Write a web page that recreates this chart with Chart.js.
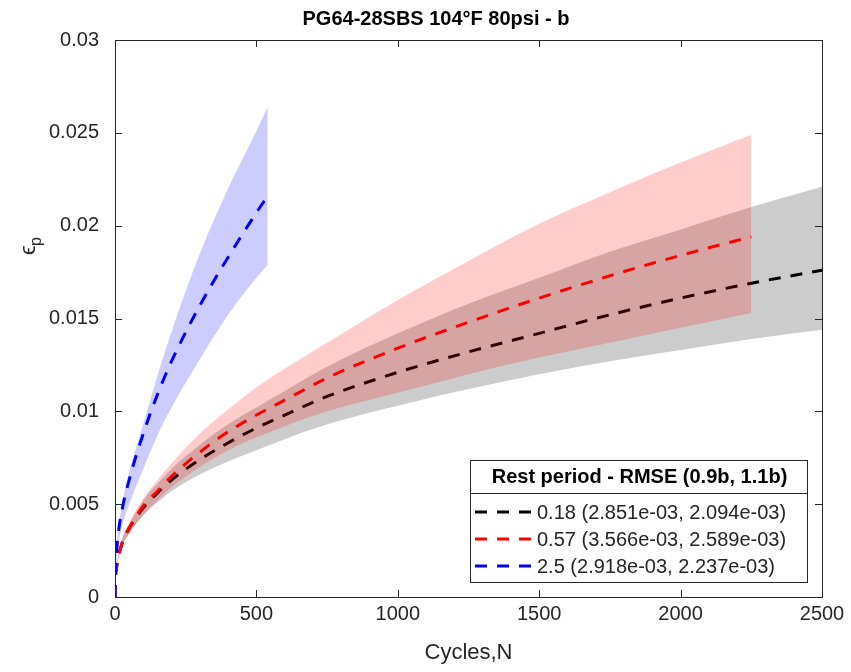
<!DOCTYPE html>
<html>
<head>
<meta charset="utf-8">
<script src="https://cdn.jsdelivr.net/npm/chart.js@4.4.1/dist/chart.umd.min.js"></script>
<style>
  body { margin: 0; background: #fff; }
  #wrap { width: 851px; height: 672px; }
</style>
</head>
<body>
<div id="wrap"><canvas id="strainChart"></canvas></div>
<script>
// cycles N for each rest period
const cyclesRest018 = [0, 1, 5, 10, 25, 50, 100, 150, 200, 300, 400, 500, 600, 750, 1000, 1250, 1500, 1750, 2000, 2250, 2500];
const cyclesRest057 = [0, 1, 5, 10, 25, 50, 100, 150, 200, 300, 400, 500, 600, 750, 1000, 1250, 1500, 1750, 2000, 2250];
const cyclesRest25  = [0, 1, 5, 10, 25, 50, 100, 150, 200, 300, 400, 500, 540];

// permanent strain, fitted b
const strainRest018 = [0, 0.0008, 0.0015, 0.0020, 0.0029, 0.0037, 0.0048, 0.0056, 0.0063, 0.0074, 0.0083, 0.0091, 0.0098, 0.0108, 0.0121, 0.0132, 0.0142, 0.0152, 0.0161, 0.0169, 0.0176];
const strainRest057 = [0, 0.0008, 0.0015, 0.0020, 0.0029, 0.0037, 0.0049, 0.0057, 0.0065, 0.0078, 0.0089, 0.0098, 0.0106, 0.0118, 0.0134, 0.0148, 0.0161, 0.0173, 0.0184, 0.0194];
const strainRest25  = [0, 0.0009, 0.0022, 0.0032, 0.0047, 0.0063, 0.0088, 0.0109, 0.0127, 0.0157, 0.0183, 0.0207, 0.0216];

// band edges (1.1b upper, 0.9b lower)
const upperRest018 = [0, 0.0008, 0.0015, 0.0021, 0.0031, 0.0039, 0.0052, 0.0061, 0.0069, 0.0082, 0.0093, 0.0102, 0.0111, 0.0124, 0.0142, 0.0158, 0.0172, 0.0186, 0.0198, 0.0210, 0.0221];
const lowerRest018 = [0, 0.0008, 0.0014, 0.0019, 0.0027, 0.0034, 0.0044, 0.0051, 0.0057, 0.0066, 0.0073, 0.0079, 0.0085, 0.0093, 0.0103, 0.0112, 0.0120, 0.0127, 0.0133, 0.0139, 0.0144];
const upperRest057 = [0, 0.0008, 0.0015, 0.0021, 0.0031, 0.0040, 0.0053, 0.0063, 0.0072, 0.0088, 0.0101, 0.0113, 0.0123, 0.0137, 0.0160, 0.0181, 0.0201, 0.0218, 0.0234, 0.0249];
const lowerRest057 = [0, 0.0008, 0.0014, 0.0019, 0.0027, 0.0034, 0.0044, 0.0052, 0.0059, 0.0070, 0.0079, 0.0086, 0.0092, 0.0100, 0.0110, 0.0120, 0.0129, 0.0137, 0.0145, 0.0153];
const upperRest25  = [0, 0.0009, 0.0023, 0.0034, 0.0050, 0.0067, 0.0093, 0.0119, 0.0143, 0.0185, 0.0220, 0.0251, 0.0264];
const lowerRest25  = [0, 0.0008, 0.0019, 0.0027, 0.0038, 0.0050, 0.0069, 0.0087, 0.0102, 0.0128, 0.0152, 0.0172, 0.0179];

const legendLabels = ['0.18 (2.851e-03, 2.094e-03)', '0.57 (3.566e-03, 2.589e-03)', '2.5 (2.918e-03, 2.237e-03)'];
const legendColors = ['#000000', '#ff0000', '#0000ff'];
const xTicks = [0, 500, 1000, 1500, 2000, 2500];
const yTicks = [0, 0.005, 0.01, 0.015, 0.02, 0.025, 0.03];

const FONT = '"Liberation Sans", Arial, Helvetica, sans-serif';
const AXIS_COLOR = '#262626';

function pts(xs, ys) {
    return xs.map((x, i) => ({ x: x, y: ys[i] }));
}

function lineSet(xs, ys, color) {
    return {
        data: pts(xs, ys),
        borderColor: color,
        borderWidth: 3,
        borderDash: [12, 10],
        pointRadius: 0,
        fill: false,
        cubicInterpolationMode: 'monotone'
    };
}

function bandEdge(xs, ys, fillColor, fillNext) {
    return {
        data: pts(xs, ys),
        borderWidth: 0,
        borderColor: 'rgba(0,0,0,0)',
        backgroundColor: fillColor,
        pointRadius: 0,
        fill: fillNext ? '+1' : false,
        cubicInterpolationMode: 'monotone'
    };
}

// first dataset is drawn on top
const datasets = [
    lineSet(cyclesRest25, strainRest25, '#0000ff'),
    bandEdge(cyclesRest25, upperRest25, 'rgba(0,0,255,0.2)', true),
    bandEdge(cyclesRest25, lowerRest25, 'rgba(0,0,255,0.2)', false),
    lineSet(cyclesRest057, strainRest057, '#ff0000'),
    bandEdge(cyclesRest057, upperRest057, 'rgba(255,0,0,0.2)', true),
    bandEdge(cyclesRest057, lowerRest057, 'rgba(255,0,0,0.2)', false),
    lineSet(cyclesRest018, strainRest018, '#000000'),
    bandEdge(cyclesRest018, upperRest018, 'rgba(0,0,0,0.2)', true),
    bandEdge(cyclesRest018, lowerRest018, 'rgba(0,0,0,0.2)', false)
];

// title, box, inward ticks, y label and legend, matlab style
const matlabAxes = {
    id: 'matlabAxes',
    afterDraw(chart) {
        const ctx = chart.ctx;
        const a = chart.chartArea;
        const xs = chart.scales.x, ys = chart.scales.y;
        ctx.save();
        ctx.fillStyle = '#000';
        ctx.font = 'bold 20px ' + FONT;
        ctx.textAlign = 'center';
        ctx.textBaseline = 'middle';
        ctx.fillText('PG64-28SBS 104\u00B0F 80psi - b', 436, 19);

        ctx.strokeStyle = AXIS_COLOR;
        ctx.lineWidth = 1;
        ctx.strokeRect(a.left + 0.5, a.top + 0.5, a.right - a.left, a.bottom - a.top);
        ctx.beginPath();
        xTicks.forEach(v => {
            const px = Math.round(xs.getPixelForValue(v)) + 0.5;
            ctx.moveTo(px, a.bottom); ctx.lineTo(px, a.bottom - 7);
            ctx.moveTo(px, a.top); ctx.lineTo(px, a.top + 7);
        });
        yTicks.forEach(v => {
            const py = Math.round(ys.getPixelForValue(v)) + 0.5;
            ctx.moveTo(a.left, py); ctx.lineTo(a.left + 7, py);
            ctx.moveTo(a.right, py); ctx.lineTo(a.right - 7, py);
        });
        ctx.stroke();

        // y label: epsilon_p
        ctx.translate(35, 245);
        ctx.rotate(-Math.PI / 2);
        ctx.fillStyle = AXIS_COLOR;
        ctx.textBaseline = 'alphabetic';
        ctx.textAlign = 'left';
        ctx.font = '22px ' + FONT;
        ctx.fillText('\u03F5', -10, 0);
        ctx.font = '16px ' + FONT;
        ctx.fillText('p', -1, 6);
        ctx.restore();

        // legend
        const lx = 470, ly = 460, lw = 337, titleH = 33, rowH = 27;
        const lh = titleH + rowH * legendLabels.length + 8;
        ctx.save();
        ctx.fillStyle = '#fff';
        ctx.fillRect(lx, ly, lw, lh);
        ctx.strokeStyle = AXIS_COLOR;
        ctx.lineWidth = 1;
        ctx.strokeRect(lx + 0.5, ly + 0.5, lw, lh);
        ctx.beginPath();
        ctx.moveTo(lx, ly + titleH + 0.5);
        ctx.lineTo(lx + lw, ly + titleH + 0.5);
        ctx.stroke();
        ctx.fillStyle = '#000';
        ctx.font = 'bold 20px ' + FONT;
        ctx.textAlign = 'center';
        ctx.textBaseline = 'middle';
        ctx.fillText('Rest period - RMSE (0.9b, 1.1b)', lx + lw / 2 + 1, ly + titleH / 2 + 1);
        ctx.textAlign = 'left';
        ctx.font = '20px ' + FONT;
        legendLabels.forEach((label, i) => {
            const cy = ly + titleH + 19 + i * rowH;
            ctx.strokeStyle = legendColors[i];
            ctx.lineWidth = 3;
            ctx.setLineDash([12, 10]);
            ctx.beginPath();
            ctx.moveTo(lx + 5, cy);
            ctx.lineTo(lx + 63, cy);
            ctx.stroke();
            ctx.setLineDash([]);
            ctx.fillStyle = AXIS_COLOR;
            ctx.fillText(label, lx + 67, cy + 1);
        });
        ctx.restore();
    }
};

new Chart(document.getElementById('strainChart').getContext('2d'), {
    type: 'line',
    data: { datasets: datasets },
    options: {
        responsive: true,
        maintainAspectRatio: false,
        animation: false,
        layout: { padding: { left: 0, right: 29, top: 40, bottom: 0 } },
        plugins: {
            legend: { display: false },
            tooltip: { enabled: false },
            title: { display: false },
            filler: { propagate: false }
        },
        scales: {
            x: {
                type: 'linear',
                min: 0,
                max: 2500,
                afterFit: s => { s.height = 75; },
                afterBuildTicks: s => { s.ticks = xTicks.map(v => ({ value: v })); },
                grid: { display: false, drawTicks: false },
                border: { display: false },
                ticks: {
                    color: AXIS_COLOR,
                    font: { family: FONT, size: 20 },
                    padding: 5,
                    maxRotation: 0,
                    callback: v => String(v)
                },
                title: {
                    display: true,
                    text: 'Cycles,N',
                    color: AXIS_COLOR,
                    font: { family: FONT, size: 22 },
                    padding: { top: 0, bottom: 6 }
                }
            },
            y: {
                type: 'linear',
                min: 0,
                max: 0.03,
                afterFit: s => { s.width = 115; },
                afterBuildTicks: s => { s.ticks = yTicks.map(v => ({ value: v })); },
                grid: { display: false, drawTicks: false },
                border: { display: false },
                ticks: {
                    color: AXIS_COLOR,
                    font: { family: FONT, size: 20 },
                    padding: 16,
                    callback: v => String(+v.toFixed(3))
                }
            }
        }
    },
    plugins: [matlabAxes]
});
</script>
</body>
</html>
